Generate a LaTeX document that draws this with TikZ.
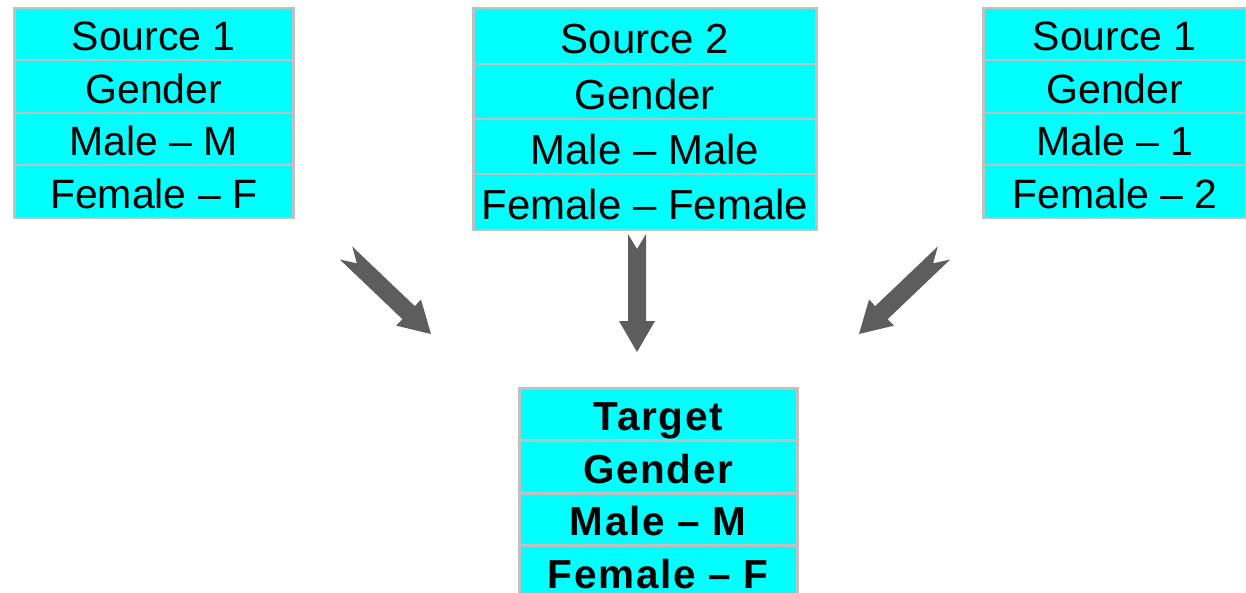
\documentclass[tikz,border=0pt]{standalone}
\usepackage{fontspec}
\setmainfont{Liberation Sans}
\newfontfamily\spacedbold{Liberation Sans}[LetterSpace=4]
\usetikzlibrary{calc}
\definecolor{cellfill}{RGB}{0,255,255}
\definecolor{cellline}{RGB}{192,192,192}
\definecolor{arrowfill}{RGB}{93,93,93}

\tikzset{
  cell/.style={draw=cellline, line width=2.5pt, fill=cellfill, anchor=north west,
    inner sep=0pt, text height=33.5pt, text depth=0pt, font=\fontsize{41}{46}\selectfont},
  bigcell/.style={cell, text height=35.5pt, font=\fontsize{42}{47}\selectfont},
  boldcell/.style={cell, text height=33pt, font=\spacedbold\fontsize{40.5}{46}\selectfont\bfseries},
  blockarrow/.style={fill=arrowfill},
}

% notched block arrow from a tail point #1 to a tip point #2
\newcommand\notchedarrow[2]{%
  \fill[blockarrow]
    ($(#1)!9pt!90:(#2)$)
    -- ($(#2)!31pt!(#1)!9pt!-90:(#1)$)
    -- ($(#2)!31pt!(#1)!18pt!-90:(#1)$)
    -- (#2)
    -- ($(#2)!31pt!(#1)!18pt!90:(#1)$)
    -- ($(#2)!31pt!(#1)!9pt!90:(#1)$)
    -- ($(#1)!9pt!-90:(#2)$)
    -- ($(#1)!15pt!(#2)$)
    -- cycle;}

\begin{document}
\begin{tikzpicture}[x=1pt, y=-1pt]
\useasboundingbox (0,0) rectangle (1246,593);

% left source table
\node[cell, minimum width=279pt, minimum height=52pt] (a1) at (13,7)   {Source 1};
\node[cell, minimum width=279pt, minimum height=53pt] (a2) at (13,59)  {Gender};
\node[cell, minimum width=279pt, minimum height=52pt] (a3) at (13,112) {Male – M};
\node[cell, minimum width=279pt, minimum height=53pt] (a4) at (13,164) {Female – F};

% middle source table
\node[bigcell, minimum width=343pt, minimum height=56pt] (b1) at (472,7)   {Source 2};
\node[bigcell, minimum width=343pt, minimum height=55pt] (b2) at (472,63)  {Gender};
\node[bigcell, minimum width=343pt, minimum height=55pt] (b3) at (472,118) {Male – Male};
\node[bigcell, minimum width=343pt, minimum height=56pt] (b4) at (472,173) {Female – Female};

% right source table
\node[cell, minimum width=263pt, minimum height=52pt] (c1) at (982,7)   {Source 1};
\node[cell, minimum width=263pt, minimum height=53pt] (c2) at (982,59)  {Gender};
\node[cell, minimum width=263pt, minimum height=52pt] (c3) at (982,112) {Male – 1};
\node[cell, minimum width=263pt, minimum height=53pt] (c4) at (982,164) {Female – 2};

% target table
\node[boldcell, minimum width=278pt, minimum height=52pt] (d1) at (518,387) {Target};
\node[boldcell, minimum width=278pt, minimum height=53pt] (d2) at (518,439) {Gender};
\node[boldcell, minimum width=278pt, minimum height=52pt] (d3) at (518,492) {Male – M};
\node[boldcell, minimum width=278pt, minimum height=53pt] (d4) at (518,544) {Female – F};

% arrow ends
\coordinate (la) at (346,253);
\coordinate (lb) at (431,334);
\coordinate (ma) at (637,234);
\coordinate (mb) at (637,352);
\coordinate (ra) at (944,253);
\coordinate (rb) at (859,334);

\notchedarrow{la}{lb}
\notchedarrow{ma}{mb}
\notchedarrow{ra}{rb}
\end{tikzpicture}
\end{document}
